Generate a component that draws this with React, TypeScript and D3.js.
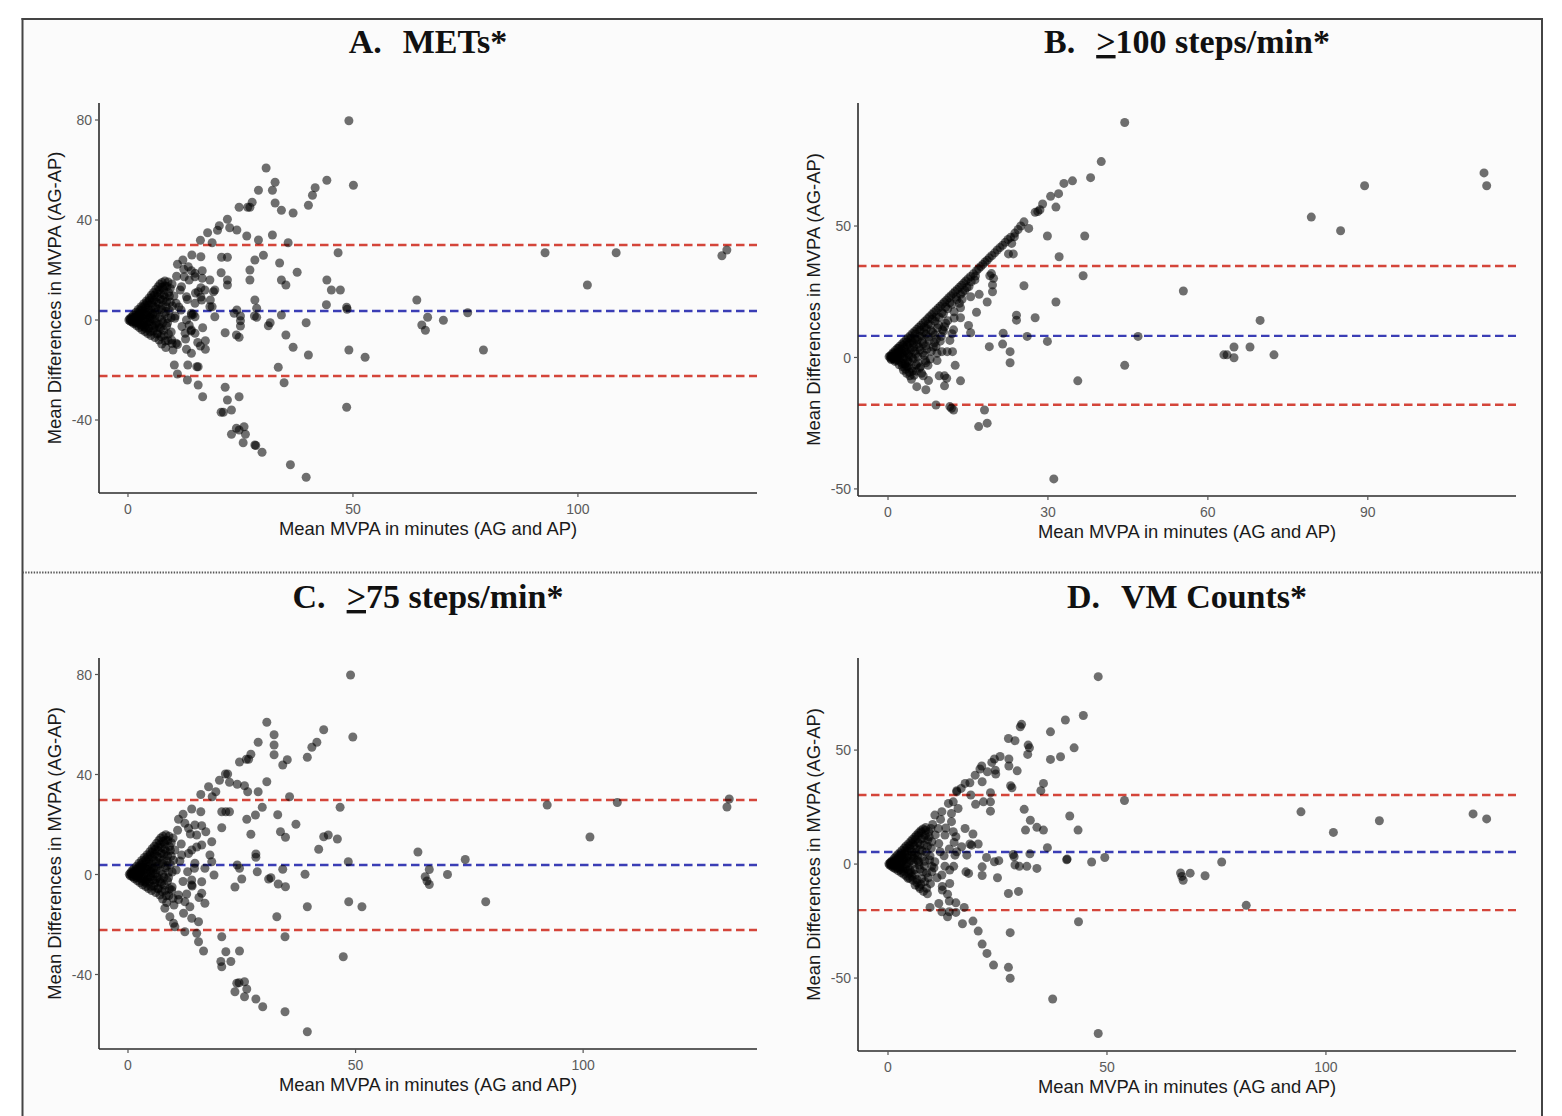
import React from "react";
import * as d3 from "d3";

type Pt = [number, number];

// ---------- Panel A: METs ----------
const metsCluster: Pt[] = [
  [0.2,0],[0.4,0.5],[0.5,-0.4],[0.8,1.2],[0.9,-0.8],[1.0,0.2],[1.2,2.0],[1.3,-1.4],[1.5,0.8],[1.6,-0.3],[1.8,3.1],[1.9,-2.2],[2.0,1.5],[2.1,-1.0],[2.3,4.2],[2.4,0.4],[2.5,-3.0],[2.6,2.6],[2.8,-1.8],[2.9,5.3],[3.0,1.0],[3.1,-3.9],[3.2,3.6],[3.3,-0.6],[3.5,6.5],[3.6,-2.6],[3.7,2.1],[3.8,-4.6],[3.9,4.8],[4.0,0.3],[4.1,7.6],[4.2,-1.5],[4.3,3.0],[4.4,-5.4],[4.5,5.9],[4.6,-3.2],[4.7,8.8],[4.8,1.2],[4.9,-0.6],[5.0,4.2],[5.1,-6.2],[5.2,10.0],[5.3,6.8],[5.4,-2.4],[5.5,2.3],[5.6,-4.4],[5.7,11.0],[5.8,8.0],[5.9,0.1],[6.0,-7.0],[6.1,5.0],[6.2,12.2],[6.3,-1.3],[6.4,3.2],[6.5,9.3],[6.6,-5.3],[6.7,13.3],[6.8,6.6],[6.9,-8.0],[7.0,1.2],[7.1,14.3],[7.2,10.6],[7.3,-3.3],[7.4,4.3],[7.5,-9.6],[7.6,15.0],[7.7,7.9],[7.8,-0.9],[7.9,12.2],[8.0,-6.2],[8.1,2.5],[8.2,15.6],[8.3,9.0],[8.4,-11.0],[8.5,5.3],[8.6,-2.4],[8.7,13.4],[8.8,0.6],[8.9,-8.2],[9.0,11.0],[9.2,3.8],[9.4,7.2],[9.6,-4.8],[9.8,14.4],[10.0,-12.0],[10.2,9.6],[10.5,1.6],[10.8,17.5],[11.0,-9.8],[11.3,5.2],[11.6,12.0],[12.0,-2.6],[12.4,20.3],[12.8,-7.6],[13.2,8.2],[13.6,16.0],[14.0,-4.4],[14.5,2.3],[15.0,10.8],[15.5,-9.0]
];
const metsCore: Pt[] = [
  [0.6,0.3],[1.1,1.0],[1.4,0.0],[1.7,1.9],[1.8,-1.2],[2.2,2.8],[2.3,-0.4],[2.7,3.8],[2.7,0.9],[3.0,-2.5],[3.2,4.9],[3.4,1.8],[3.5,-1.4],[3.8,5.8],[3.9,-3.3],[4.1,2.2],[4.3,6.9],[4.4,-0.8],[4.6,4.0],[4.8,7.8],[4.9,-4.6],[5.1,2.7],[5.3,8.9],[5.4,0.4],[5.6,5.6],[5.8,-3.3],[5.9,9.9],[6.1,2.0],[6.3,7.2],[6.4,-5.6],[6.5,11.0],[6.7,4.2],[6.9,-1.8],[7.0,12.0],[7.2,8.4],[7.3,-6.6],[7.5,0.2],[7.6,13.1],[7.7,5.8],[7.9,-4.1],[8.0,10.0],[8.2,13.6],[8.3,-8.4],[8.4,3.4],[8.6,7.4],[8.8,-1.2],[8.9,15.2],[9.0,-5.6],[9.2,9.6],[9.4,12.6],[9.6,0.9],[9.8,-9.4],[9.9,5.6],[7.0,-3.0],[6.0,-2.0],[5.0,0.8],[4.0,-2.0],[3.0,2.6],[2.0,-0.2],[1.0,-0.6]
];
const metsPoints: Pt[] = [
  [49.1,79.7],[50.1,53.9],[30.7,60.8],[32.7,55.1],[32.1,51.9],[29.0,51.9],[32.7,46.8],[34.1,43.9],[36.7,42.8],[27.6,47.1],[27.1,45.1],[26.6,45.1],[24.7,45.1],[44.2,55.9],[41.6,52.9],[41.0,49.9],[40.1,45.9],[22.1,40.3],[20.3,37.7],[22.6,36.9],[24.2,36.0],[19.9,35.9],[17.7,34.9],[18.7,30.9],[16.1,31.9],[26.4,33.6],[29.0,32.0],[32.1,34.0],[35.6,30.9],[46.7,26.9],[16.2,25.3],[20.8,25.1],[22.1,25.1],[14.2,26.0],[12.2,24.0],[11.0,22.3],[30.1,25.9],[28.2,24.0],[27.1,20.0],[27.1,16.0],[33.7,22.8],[37.6,19.1],[34.1,16.0],[35.1,14.0],[44.2,16.0],[45.2,12.0],[47.2,12.0],[44.1,6.1],[48.6,5.1],[48.7,4.3],[20.7,18.9],[22.1,16.0],[22.1,14.0],[18.2,16.0],[19.3,12.0],[18.3,8.0],[18.7,5.3],[16.2,12.9],[16.2,9.2],[28.2,8.0],[28.6,4.7],[28.1,1.6],[28.6,1.1],[24.2,4.0],[25.0,1.6],[25.0,-0.3],[25.0,-2.4],[23.6,2.7],[21.6,-5.1],[24.1,-6.0],[24.7,-6.9],[31.2,-2.3],[31.6,-1.1],[34.1,2.0],[35.1,-6.0],[36.7,-10.9],[39.6,-1.1],[40.1,-14.0],[49.1,-12.0],[52.7,-14.9],[33.4,-18.9],[34.7,-25.1],[48.6,-34.9],[16.6,-3.1],[17.2,-8.3],[17.2,-11.7],[16.1,-10.4],[14.1,-13.3],[13.0,-11.7],[13.3,-18.0],[15.3,-18.7],[15.6,-18.7],[13.2,-24.0],[15.6,-26.0],[16.6,-30.7],[10.3,-18.0],[11.0,-21.6],[21.6,-26.9],[22.1,-32.0],[24.7,-30.7],[23.0,-36.0],[20.7,-36.9],[21.2,-36.9],[25.8,-42.7],[24.7,-44.0],[24.1,-43.3],[26.1,-45.7],[23.0,-45.7],[25.6,-49.1],[28.2,-50.0],[28.4,-50.2],[29.8,-52.9],[36.1,-57.9],[39.6,-62.9],
  [64.2,8.0],[65.3,-2.0],[66.1,-4.1],[66.6,1.1],[70.1,-0.1],[75.5,2.9],[79.0,-12.0],[92.7,26.9],[102.1,14.0],[108.5,26.9],[132.0,25.7],[133.1,28.0],
  [12.5,17.3],[14.1,19.7],[14.9,17.3],[13.0,9.3],[11.8,4.0],[10.7,6.7],[14.1,2.0],[13.0,0],[13.6,-2.1],[14.9,1.3],[10.4,0.7],[9.7,-8.0],[10.7,-9.3],[14.9,6.7],[16.4,8.0],[18.2,5.3],[19.3,1.3],[14.9,18.7],[16.5,16.7],[13.4,21.3],[16.5,19.7],[11.9,13.3],[17.1,12.0],[19.0,11.3],[15.6,11.3],[12.7,-5.3],[14.1,-4.0],[14.9,-5.3],[14.1,2.7]
];
const metsLimits = [30.0, 3.6, -22.4];

// ---------- Panel B: >=100 steps/min ----------
const steps100Cluster: Pt[] = [
  [0.2,0.3],[0.4,0.6],[0.5,-0.3],[0.7,1.2],[0.8,0.2],[1.0,1.9],[1.1,-0.6],[1.2,0.9],[1.4,2.7],[1.5,0.0],[1.6,1.6],[1.8,3.5],[1.9,-1.0],[2.0,2.2],[2.2,4.3],[2.3,0.8],[2.4,-1.8],[2.5,3.0],[2.6,5.1],[2.8,1.5],[2.9,-0.5],[3.0,5.9],[3.1,3.8],[3.2,-2.6],[3.4,6.7],[3.5,2.0],[3.6,4.6],[3.7,-1.2],[3.8,7.5],[3.9,0.4],[4.0,5.4],[4.2,8.3],[4.3,2.8],[4.4,-4.0],[4.5,6.2],[4.6,9.1],[4.7,-0.6],[4.8,4.0],[5.0,9.9],[5.1,7.0],[5.2,1.3],[5.3,-5.2],[5.4,10.7],[5.5,5.0],[5.6,-2.0],[5.8,11.5],[5.9,8.0],[6.0,2.8],[6.2,12.3],[6.3,-6.0],[6.4,6.0],[6.6,13.1],[6.7,9.6],[6.8,0.8],[7.0,13.9],[7.1,4.5],[7.2,11.0],[7.4,14.7],[7.5,-3.0],[7.6,7.8],[7.8,15.5],[8.0,12.4],[8.1,2.3],[8.2,16.3],[8.4,9.5],[8.6,17.1],[8.7,5.6],[8.8,13.8],[9.0,17.9],[9.2,-1.2],[9.3,11.2],[9.4,18.7],[9.6,15.3],[9.8,19.5],[10.0,8.0],[10.2,20.3],[10.4,16.6],[10.6,21.1],[10.8,13.0],[11.0,21.9],[11.2,18.5],[11.4,22.7],[11.6,6.5],[11.8,23.5],[12.0,20.2],[12.2,24.3],[12.4,15.0],[12.6,25.1],[12.9,22.0],[13.0,25.9],[13.4,26.7],[13.6,24.0],[13.8,27.5],[14.2,28.3],[14.4,25.5],[14.6,29.1],[15.0,29.9],[15.2,27.0],[15.5,30.8],[16.0,31.8],[16.3,29.5],[16.6,33.0],[17.0,33.8],[17.4,34.6],[17.8,35.4],[18.2,36.3],[18.6,37.0],[19.0,37.9],[19.5,38.8],[20.0,39.8],[20.5,40.9],[21.0,41.8],[21.5,42.7],[22.0,43.8],[22.5,44.9],[23.0,45.7],[23.8,47.3],[0.6,-0.8],[1.3,-1.5],[2.1,-2.8],[2.7,-3.5],[3.3,-4.4],[4.0,-5.6],[4.9,-6.8],[3.5,-6.0],[2.9,-4.9]
];
const steps100Core: Pt[] = [
  [0.6,0.4],[0.9,-0.4],[1.2,1.6],[1.5,-1.1],[1.8,0.6],[2.0,3.4],[2.2,-0.3],[2.5,1.8],[2.7,-2.3],[2.8,4.6],[3.0,0.6],[3.3,2.6],[3.5,-3.6],[3.6,5.9],[3.8,1.2],[4.0,-1.8],[4.1,3.5],[4.3,7.3],[4.5,0.0],[4.6,-5.2],[4.8,5.6],[5.0,2.4],[5.1,8.9],[5.3,-2.8],[5.5,6.8],[5.6,0.3],[5.8,3.9],[6.0,10.3],[6.1,-3.6],[6.3,8.2],[6.5,1.8],[6.6,5.2],[6.8,11.6],[7.0,-1.2],[7.1,8.9],[7.3,3.2],[7.5,12.6],[7.7,6.4],[7.9,-0.6],[8.1,10.2],[8.3,14.6],[8.5,4.0],[8.8,8.6],[9.0,15.4],[9.2,1.6],[9.5,12.4],[9.8,6.2],[10.1,17.0],[10.4,10.0],[10.8,19.2],[11.2,14.0],[11.6,20.8],[12.0,9.0],[12.4,17.4],[12.8,23.0],[13.4,20.6],[14.0,24.8],[14.8,26.6],[15.6,28.8],[16.4,31.0]
];
const steps100Points: Pt[] = [
  [44.4,89.4],[40.0,74.5],[38.0,68.4],[34.6,67.2],[33.0,66.2],[32.0,62.3],[30.5,61.3],[31.5,57.2],[29.0,58.4],[28.5,56.2],[27.6,55.2],[28.1,55.5],[26.4,49.1],[25.5,51.6],[24.9,50.0],[24.4,48.7],[29.9,46.2],[36.9,46.2],[23.7,45.9],[23.2,43.4],[22.6,39.4],[23.5,39.4],[32.1,38.3],[36.6,31.1],[25.5,27.3],[31.5,21.1],[24.1,16.1],[24.1,14.2],[27.6,15.1],[21.6,9.2],[21.5,5.1],[26.1,8.0],[29.9,6.1],[46.9,8.0],[22.9,2.2],[22.9,-2.0],[35.6,-8.9],[44.4,-3.0],[19.0,4.1],[16.6,17.2],[15.1,12.2],[15.5,9.4],[18.6,21.1],[19.6,25.0],[19.6,27.6],[19.8,30.1],[19.1,31.1],[19.4,31.9],[17.1,24.0],[15.5,23.1],[13.9,22.1],[13.6,18.9],[13.6,15.1],[12.3,10.5],[12.6,-3.0],[13.6,-8.9],[12.1,2.2],[11.1,2.2],[10.1,2.2],[10.6,11.7],[10.2,10.5],[9.0,4.1],[9.1,7.0],[9.6,-7.0],[10.6,-7.0],[11.0,-7.9],[10.6,-10.8],[7.1,-2.0],[6.6,-7.0],[7.6,-8.8],[7.1,-12.3],[5.4,-11.1],[5.9,-4.1],[4.1,-7.0],[4.4,-8.3],[3.8,-3.5],[3.2,-2.2],[9.0,-18.1],[11.9,-19.3],[12.3,-20.0],[11.6,-18.7],[18.1,-20.0],[17.0,-26.3],[18.6,-25.0],[31.1,-46.2],
  [79.4,53.4],[84.9,48.2],[89.4,65.3],[111.8,70.2],[112.3,65.3],[55.4,25.3],[69.8,14.1],[64.9,4.0],[67.9,4.0],[63.6,1.0],[63.0,1.0],[64.9,-0.1],[72.4,1.0]
];
const steps100Limits = [34.8, 8.2, -18.0];

// ---------- Panel C: >=75 steps/min ----------
const steps75Cluster: Pt[] = [
  [0.3,0.1],[0.5,-0.5],[0.6,0.7],[0.9,1.5],[1.0,-0.9],[1.1,0.3],[1.3,2.3],[1.4,-1.6],[1.6,0.9],[1.7,-0.2],[1.9,3.3],[2.0,-2.4],[2.1,1.7],[2.2,-0.9],[2.4,4.5],[2.5,0.5],[2.6,-3.2],[2.7,2.8],[2.9,-1.6],[3.0,5.6],[3.1,1.2],[3.2,-4.1],[3.3,3.8],[3.4,-0.4],[3.6,6.8],[3.7,-2.8],[3.8,2.3],[3.9,-4.8],[4.0,5.0],[4.1,0.5],[4.2,7.9],[4.3,-1.7],[4.4,3.2],[4.5,-5.6],[4.6,6.1],[4.7,-3.0],[4.8,9.1],[4.9,1.4],[5.0,-0.8],[5.1,4.4],[5.2,-6.4],[5.3,10.3],[5.4,7.0],[5.5,-2.2],[5.6,2.5],[5.7,-4.6],[5.8,11.3],[5.9,8.2],[6.0,0.3],[6.1,-7.2],[6.2,5.2],[6.3,12.5],[6.4,-1.1],[6.5,3.4],[6.6,9.5],[6.7,-5.5],[6.8,13.6],[6.9,6.8],[7.0,-8.2],[7.1,1.4],[7.2,14.6],[7.3,10.8],[7.4,-3.5],[7.5,4.5],[7.6,-9.8],[7.7,15.3],[7.8,8.1],[7.9,-1.1],[8.0,12.4],[8.1,-6.4],[8.2,2.7],[8.3,15.9],[8.4,9.2],[8.5,-11.2],[8.6,5.5],[8.7,-2.6],[8.8,13.6],[8.9,0.8],[9.0,-8.4],[9.1,11.2],[9.3,4.0],[9.5,7.4],[9.7,-5.0],[9.9,14.6],[10.1,-12.2],[10.3,9.8],[10.6,1.8],[10.9,17.7],[11.1,-10.0],[11.4,5.4],[11.7,12.2],[12.1,-2.8],[12.5,20.5],[12.9,-7.8],[13.3,8.4],[13.7,16.2],[14.1,-4.6],[14.6,2.5],[15.1,11.0],[15.6,-9.2]
];
const steps75Core: Pt[] = [
  [0.7,0.2],[1.2,1.1],[1.5,-0.1],[1.8,2.0],[1.9,-1.3],[2.3,2.9],[2.4,-0.5],[2.8,3.9],[2.8,0.8],[3.1,-2.6],[3.3,5.0],[3.5,1.7],[3.6,-1.5],[3.9,5.9],[4.0,-3.4],[4.2,2.1],[4.4,7.0],[4.5,-0.9],[4.7,4.1],[4.9,7.9],[5.0,-4.7],[5.2,2.6],[5.4,9.0],[5.5,0.3],[5.7,5.7],[5.9,-3.4],[6.0,10.0],[6.2,1.9],[6.4,7.3],[6.5,-5.7],[6.6,11.1],[6.8,4.3],[7.0,-1.9],[7.1,12.1],[7.3,8.5],[7.4,-6.7],[7.6,0.1],[7.7,13.2],[7.8,5.9],[8.0,-4.2],[8.1,10.1],[8.3,13.7],[8.4,-8.5],[8.5,3.5],[8.7,7.5],[8.9,-1.3],[9.0,15.3],[9.1,-5.7],[9.3,9.7],[9.5,12.7],[9.7,1.0],[9.9,-9.5],[10.0,5.7],[7.1,-3.1],[6.1,-2.1],[5.1,0.9],[4.1,-2.1],[3.1,2.7],[2.1,-0.3],[1.1,-0.7]
];
const steps75Points: Pt[] = [
  [48.9,79.8],[49.4,55.0],[30.5,60.9],[32.1,55.9],[32.1,51.8],[32.1,47.9],[28.6,52.9],[34.0,43.8],[35.0,45.9],[27.0,48.1],[26.5,46.1],[26.0,46.1],[24.5,45.0],[43.0,57.9],[41.5,52.9],[40.4,50.9],[39.4,46.9],[20.1,37.7],[21.9,40.2],[21.4,40.2],[22.3,36.9],[24.0,36.1],[25.6,35.5],[26.3,33.1],[28.6,33.1],[30.5,37.1],[17.7,35.1],[16.0,32.0],[18.5,31.1],[19.3,33.1],[35.5,31.1],[29.5,26.9],[28.0,23.8],[26.1,22.1],[27.0,16.1],[32.9,23.9],[36.9,20.1],[33.5,17.1],[34.6,14.9],[46.6,26.9],[43.0,15.1],[44.0,15.8],[46.0,14.2],[41.9,10.1],[48.4,5.1],[28.1,8.2],[28.1,6.9],[28.4,1.1],[24.0,3.8],[24.5,2.5],[25.0,-1.8],[23.5,-5.0],[30.9,-1.8],[31.4,-1.3],[34.0,2.1],[33.0,-3.8],[34.6,-4.9],[38.9,0.1],[39.4,-12.9],[48.5,-10.9],[51.4,-12.9],[32.7,-16.9],[34.5,-24.9],[47.3,-32.9],[20.6,25.1],[21.5,25.1],[22.3,25.1],[20.6,18.7],[20.6,-24.9],[21.5,-30.9],[24.5,-30.6],[22.6,-34.8],[20.4,-34.8],[20.6,-36.9],[25.6,-42.9],[24.4,-43.3],[23.9,-43.5],[26.1,-45.8],[23.5,-46.9],[25.6,-48.9],[28.1,-49.8],[29.6,-52.9],[34.5,-54.9],[39.4,-62.9],
  [63.7,9.0],[65.3,-0.9],[66.2,2.0],[65.7,-2.6],[66.2,-4.0],[70.2,0],[74.1,6.0],[78.6,-10.9],[92.1,27.8],[101.5,15.0],[107.5,28.8],[131.6,27.0],[132.1,30.2],
  [16.0,25.1],[14.0,26.2],[12.1,24.1],[11.1,22.1],[14.7,19.8],[16.2,19.5],[13.3,18.5],[15.1,15.8],[17.1,17.1],[18.4,13.1],[16.2,11.8],[18.0,7.8],[18.4,5.1],[18.9,-0.2],[16.9,2.5],[14.7,4.5],[14.0,9.8],[11.8,7.8],[13.1,1.1],[14.0,-2.2],[14.0,-4.2],[16.2,-2.9],[16.2,-7.5],[16.9,-11.5],[12.5,-10.9],[13.6,-12.9],[12.2,-15.5],[14.0,-17.5],[15.5,-18.9],[15.1,-23.5],[15.5,-26.9],[16.6,-30.6],[12.5,-22.9],[10.3,-20.9],[10.0,-19.5],[8.1,-13.5],[9.2,-16.9],[11.1,-8.2],[9.6,-6.2]
];
const steps75Limits = [29.8, 3.8, -22.2];

// ---------- Panel D: VM Counts ----------
const vmCluster: Pt[] = [
  [0.2,0.1],[0.4,-0.4],[0.6,0.8],[0.8,-0.9],[0.9,1.4],[1.1,0.2],[1.2,-1.5],[1.4,2.4],[1.5,0.7],[1.7,-2.1],[1.8,3.2],[1.9,-0.5],[2.1,1.6],[2.2,4.1],[2.3,-2.9],[2.5,2.5],[2.6,-1.2],[2.7,5.0],[2.9,0.4],[3.0,-3.7],[3.1,3.5],[3.2,6.0],[3.4,-1.9],[3.5,1.8],[3.6,-4.5],[3.7,7.0],[3.8,4.4],[4.0,-0.8],[4.1,7.9],[4.2,-5.3],[4.3,2.9],[4.5,5.6],[4.6,-2.7],[4.7,8.9],[4.8,0.9],[5.0,-6.2],[5.1,6.8],[5.2,9.9],[5.3,-3.6],[5.5,3.8],[5.6,10.8],[5.7,-7.1],[5.8,0.2],[6.0,8.2],[6.1,11.8],[6.2,-4.6],[6.3,5.0],[6.5,12.7],[6.6,-8.2],[6.7,1.6],[6.8,9.4],[7.0,13.7],[7.1,-10.0],[7.2,6.3],[7.3,-2.2],[7.5,14.6],[7.6,11.0],[7.7,-6.4],[7.8,3.0],[8.0,15.4],[8.1,-12.0],[8.2,8.4],[8.3,-0.8],[8.5,12.6],[8.6,16.0],[8.7,5.2],[8.8,-4.0],[9.0,-13.0],[9.1,10.6],[9.3,14.2],[9.5,1.8],[9.7,-8.6],[9.9,7.0],[10.2,17.4],[10.5,-1.6],[10.8,12.8],[11.2,-6.0],[11.6,9.0],[12.0,19.6],[12.4,-9.8],[12.8,3.6],[13.2,15.8],[13.6,-13.2],[14.0,6.6],[14.5,22.2],[15.0,-1.0],[15.5,12.0],[16.0,24.4]
];
const vmCore: Pt[] = [
  [0.5,0.3],[0.8,-0.3],[1.0,0.9],[1.3,-0.8],[1.6,1.8],[1.9,0.1],[2.1,-1.6],[2.4,3.0],[2.6,0.9],[2.8,-2.4],[3.0,4.4],[3.3,1.2],[3.5,-3.2],[3.6,2.8],[3.9,5.8],[4.0,-1.9],[4.3,0.2],[4.4,7.0],[4.6,3.6],[4.8,-4.1],[5.0,8.2],[5.2,1.4],[5.4,5.4],[5.5,-5.5],[5.7,9.4],[5.9,2.6],[6.1,-2.4],[6.3,10.8],[6.4,6.8],[6.6,-6.8],[6.8,3.4],[6.9,12.4],[7.1,-0.4],[7.3,8.6],[7.5,-8.9],[7.6,13.8],[7.8,5.8],[8.0,-3.4],[8.2,11.4],[8.4,1.2],[8.6,14.8],[8.8,-10.6],[9.0,7.8],[9.2,-6.0],[9.4,12.0],[9.6,3.6],[9.8,15.6],[10.0,-1.0],[7.0,1.0],[6.0,4.0],[5.0,-2.6],[4.0,2.0],[3.0,-0.6],[2.0,1.4]
];
const vmPoints: Pt[] = [
  [48.0,82.2],[44.6,65.2],[40.5,63.2],[42.5,51.0],[39.4,47.1],[37.1,58.0],[37.1,45.9],[30.5,61.3],[30.2,60.2],[27.5,55.1],[29.0,54.1],[32.0,52.2],[32.3,51.0],[31.9,48.1],[25.6,47.2],[24.3,46.1],[23.7,44.6],[24.5,41.2],[27.6,46.1],[27.6,43.0],[29.5,40.9],[21.4,43.0],[21.0,41.7],[22.7,40.5],[19.9,39.0],[21.5,36.1],[24.6,39.5],[17.6,35.4],[18.7,35.7],[15.7,32.2],[16.7,33.2],[28.0,34.4],[28.3,33.5],[35.5,35.4],[34.9,32.2],[18.9,30.3],[23.4,31.3],[20.0,26.2],[21.8,27.3],[23.4,27.3],[23.4,23.2],[31.1,24.0],[32.5,19.2],[31.4,14.9],[34.0,16.1],[35.5,14.9],[41.5,21.1],[43.4,14.9],[54.0,27.9],[36.4,7.2],[40.9,2.2],[46.5,0.9],[49.5,2.9],[28.6,4.2],[32.4,4.5],[28.8,3.2],[29.0,-0.4],[30.0,-1.0],[31.7,-1.0],[34.0,-1.9],[24.3,1.0],[25.3,1.5],[22.5,2.9],[25.0,-6.0],[27.5,-12.9],[29.8,-12.0],[18.0,3.9],[17.8,-3.4],[18.4,-4.1],[21.5,-1.2],[21.5,-5.0],[17.6,15.6],[19.4,13.2],[20.6,8.8],[18.7,8.8],[14.9,14.2],[15.1,9.5],[15.7,5.4],[13.0,-0.9],[14.1,-2.6],[14.1,-8.5],[12.4,-11.4],[9.6,-19.0],[11.6,-17.3],[14.0,-16.2],[15.5,-17.0],[17.4,-19.0],[12.3,-20.9],[14.0,-20.9],[13.6,-23.1],[15.5,-21.2],[17.0,-26.2],[19.4,-25.0],[20.6,-29.4],[21.5,-35.1],[22.6,-39.2],[24.1,-44.3],[27.5,-45.3],[27.9,-50.1],[27.9,-30.1],[37.6,-59.2],[48.0,-74.3],[43.5,-25.3],[40.8,1.9],
  [94.3,22.9],[101.7,13.9],[112.2,19.0],[133.6,22.0],[136.7,19.8],[76.2,0.9],[66.8,-3.9],[67.1,-5.4],[67.4,-7.1],[69.0,-4.0],[72.4,-5.1],[81.8,-18.1],
  [10.7,21.5],[12.3,23.0],[13.8,26.6],[14.9,27.3],[15.7,31.7],[11.5,15.6],[13.0,12.7],[10.0,9.8],[11.9,5.4],[10.7,1.0],[10.0,-3.4],[8.4,-7.7],[7.3,-10.7],[6.2,-9.2],[4.6,-6.3],[12.3,-4.8],[15.3,3.9],[16.8,7.6],[14.5,18.6],[19.1,8.3]
];
const vmLimits = [30.3, 5.3, -20.2];

// ---------- ticks ----------
const xTicksA = [0, 50, 100];
const yTicksA = [-40, 0, 40, 80];
const xTicksB = [0, 30, 60, 90];
const yTicksB = [-50, 0, 50];
const xTicksC = [0, 50, 100];
const yTicksC = [-40, 0, 40, 80];
const xTicksD = [0, 50, 100];
const yTicksD = [-50, 0, 50];

const xDomainA = [-6.44, 139.8];
const yDomainA = [-69.2, 86.8];
const xDomainB = [-5.63, 117.8];
const yDomainB = [-52.7, 96.8];
const xDomainC = [-6.37, 138.2];
const yDomainC = [-69.8, 86.6];
const xDomainD = [-6.85, 143.4];
const yDomainD = [-82.0, 90.4];

const xLabel = "Mean MVPA in minutes (AG and AP)";
const yLabel = "Mean Differences in MVPA (AG-AP)";

interface PanelCfg {
  letter: string;
  underlined: string;
  rest: string;
  points: Pt[];
  limits: number[];
  xTicks: number[];
  yTicks: number[];
  xDomain: number[];
  yDomain: number[];
  box: { l: number; r: number; t: number; b: number };
}

const panels: PanelCfg[] = [
  { letter: "A.", underlined: "", rest: "METs*", points: [...metsCluster, ...metsCore, ...metsPoints], limits: metsLimits, xTicks: xTicksA, yTicks: yTicksA, xDomain: xDomainA, yDomain: yDomainA, box: { l: 99, r: 757, t: 103, b: 493 } },
  { letter: "B.", underlined: ">", rest: "100 steps/min*", points: [...steps100Cluster, ...steps100Core, ...steps100Points], limits: steps100Limits, xTicks: xTicksB, yTicks: yTicksB, xDomain: xDomainB, yDomain: yDomainB, box: { l: 858, r: 1516, t: 103, b: 496 } },
  { letter: "C.", underlined: ">", rest: "75 steps/min*", points: [...steps75Cluster, ...steps75Core, ...steps75Points], limits: steps75Limits, xTicks: xTicksC, yTicks: yTicksC, xDomain: xDomainC, yDomain: yDomainC, box: { l: 99, r: 757, t: 658, b: 1049 } },
  { letter: "D.", underlined: "", rest: "VM Counts*", points: [...vmCluster, ...vmCore, ...vmPoints], limits: vmLimits, xTicks: xTicksD, yTicks: yTicksD, xDomain: xDomainD, yDomain: yDomainD, box: { l: 858, r: 1516, t: 658, b: 1051 } },
];

const SANS = "'Liberation Sans', Arial, Helvetica, sans-serif";
const SERIF = "'Liberation Serif', 'Times New Roman', Times, serif";
const lineColors = ["#d4453a", "#3a3db5", "#d4453a"];

function Panel({ cfg }: { cfg: PanelCfg }) {
  const { box } = cfg;
  const x = d3.scaleLinear().domain(cfg.xDomain).range([box.l, box.r]);
  const y = d3.scaleLinear().domain(cfg.yDomain).range([box.b, box.t]);
  const cx = (box.l + box.r) / 2;
  const cy = (box.t + box.b) / 2;
  const titleY = box.t - 50;
  return (
    <g>
      <text x={cx} y={titleY} textAnchor="middle" fontFamily={SERIF} fontWeight="bold" fontSize={34} fill="#111">
        <tspan>{cfg.letter}</tspan>
        {cfg.underlined ? (
          <tspan dx={21} textDecoration="underline">{cfg.underlined}</tspan>
        ) : null}
        <tspan dx={cfg.underlined ? 0 : 21}>{cfg.rest}</tspan>
      </text>
      {cfg.limits.map((v, i) => (
        <line key={"l" + i} x1={box.l} x2={box.r} y1={y(v)} y2={y(v)} stroke={lineColors[i]} strokeWidth={2.4} strokeDasharray="8.5 4.5" />
      ))}
      {cfg.points.map((p, i) => (
        <circle key={i} cx={x(p[0])} cy={y(p[1])} r={4.5} fill="#000" fillOpacity={0.56} />
      ))}
      <line x1={box.l} x2={box.l} y1={box.t} y2={box.b} stroke="#2b2b2b" strokeWidth={1.6} />
      <line x1={box.l} x2={box.r} y1={box.b} y2={box.b} stroke="#2b2b2b" strokeWidth={1.6} />
      {cfg.yTicks.map((t) => (
        <g key={"yt" + t}>
          <line x1={box.l - 4} x2={box.l} y1={y(t)} y2={y(t)} stroke="#555" strokeWidth={1.2} />
          <text x={box.l - 7} y={y(t)} dy="0.36em" textAnchor="end" fontFamily={SANS} fontSize={14} fill="#5a5a5a">{String(t)}</text>
        </g>
      ))}
      {cfg.xTicks.map((t) => (
        <g key={"xt" + t}>
          <line x1={x(t)} x2={x(t)} y1={box.b} y2={box.b + 4} stroke="#555" strokeWidth={1.2} />
          <text x={x(t)} y={box.b + 21} textAnchor="middle" fontFamily={SANS} fontSize={14} fill="#5a5a5a">{String(t)}</text>
        </g>
      ))}
      <text x={cx} y={box.b + 42} textAnchor="middle" fontFamily={SANS} fontSize={18.4} fill="#1a1a1a">{xLabel}</text>
      <text transform={`translate(${box.l - 38},${cy}) rotate(-90)`} textAnchor="middle" fontFamily={SANS} fontSize={18.4} fill="#1a1a1a">{yLabel}</text>
    </g>
  );
}

export default function App() {
  return (
    <svg width={1562} height={1116} style={{ position: "absolute", left: 0, top: 0, background: "#fff" }}>
      <rect x={22.5} y={19} width={1519.5} height={1100} fill="#fbfbfb" />
      <line x1={22.5} x2={22.5} y1={18} y2={1116} stroke="#444" strokeWidth={2} />
      <line x1={1542} x2={1542} y1={18} y2={1116} stroke="#444" strokeWidth={2} />
      <line x1={21.5} x2={1543} y1={19} y2={19} stroke="#444" strokeWidth={2} />
      <line x1={22.5} x2={1542} y1={572.5} y2={572.5} stroke="#555" strokeWidth={2} strokeDasharray="1.4 1.4" />
      {panels.map((p, i) => (
        <Panel key={i} cfg={p} />
      ))}
    </svg>
  );
}
